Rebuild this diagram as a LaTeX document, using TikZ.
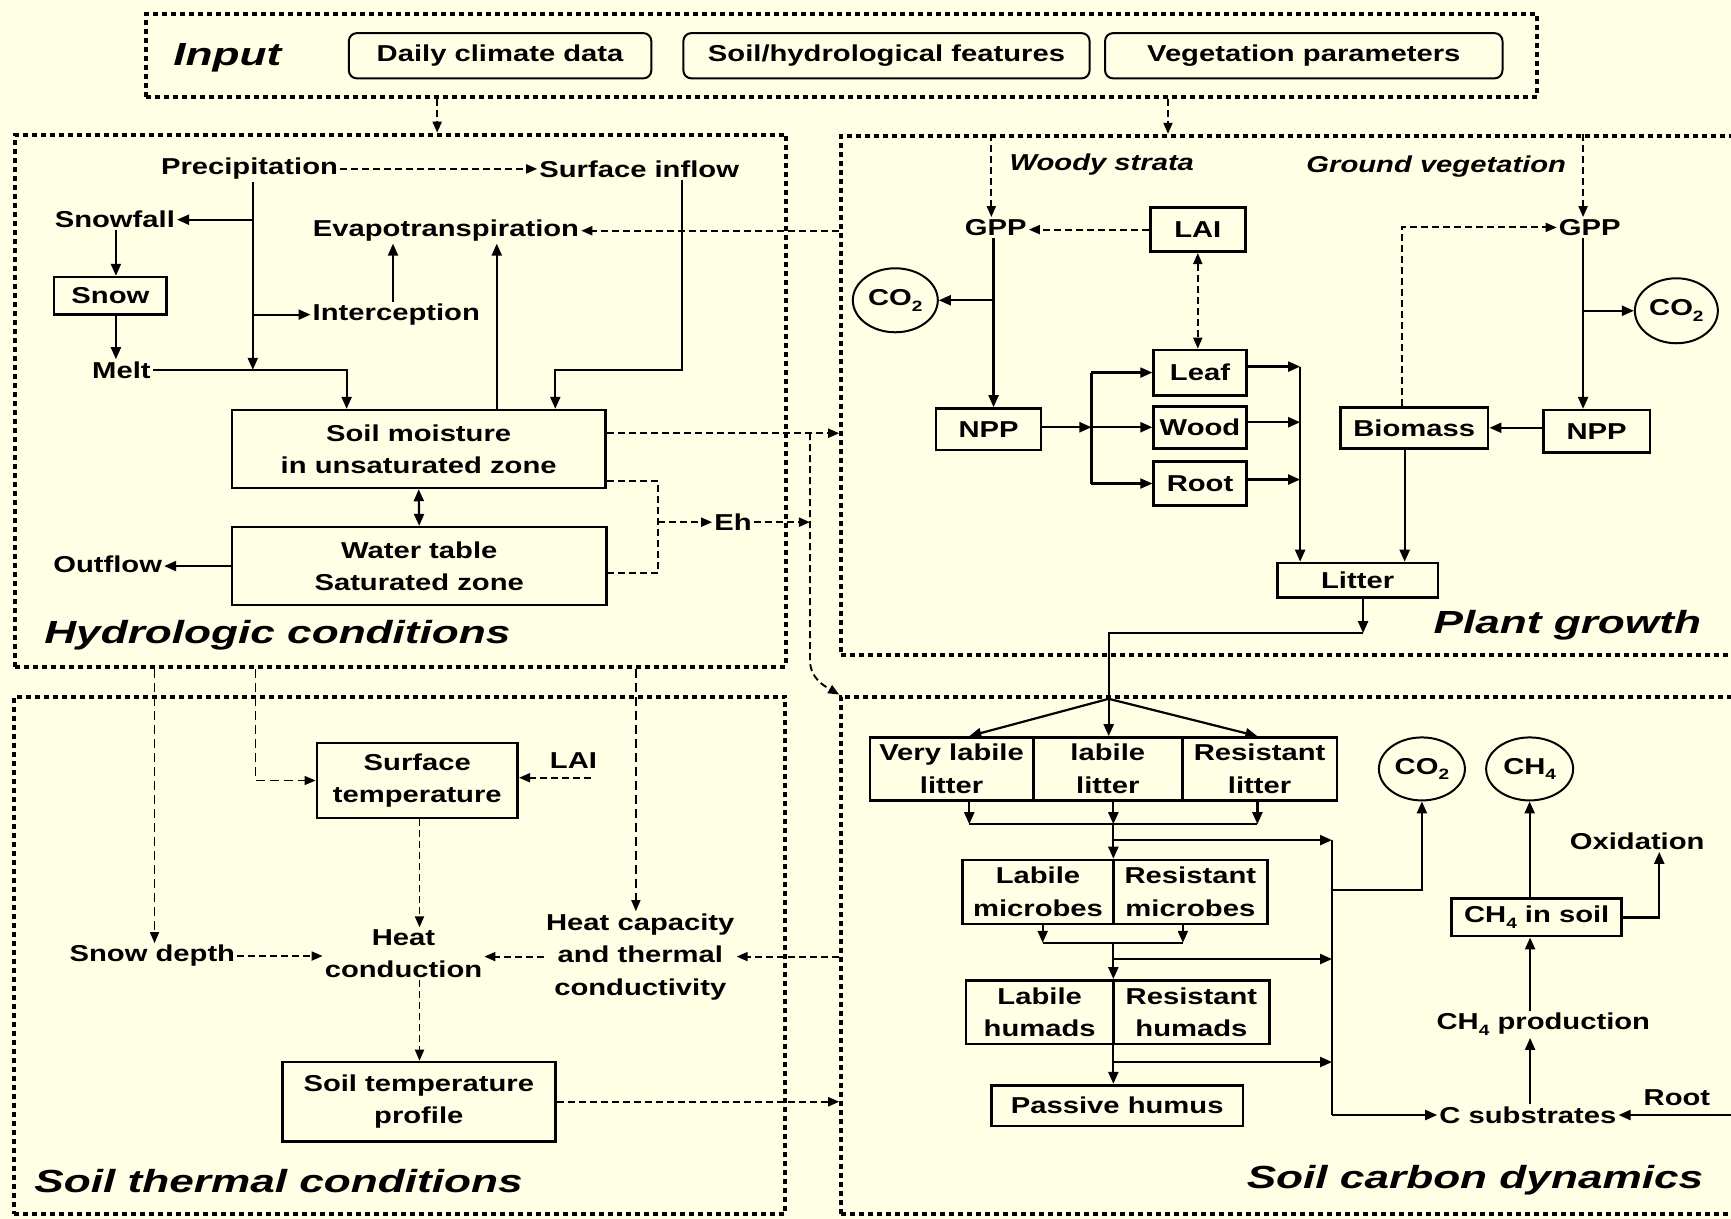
\documentclass[tikz,border=0pt]{standalone}
\usepackage{fontspec}
\setmainfont[FakeStretch=1.27]{Liberation Sans}
\newfontfamily\ttlfont[FakeStretch=1.38]{Liberation Sans}
\usetikzlibrary{arrows.meta,fit,shapes.geometric}
\definecolor{bgc}{RGB}{255,255,230}
\newcommand{\sbs}[1]{\raisebox{-0.25em}{\fontsize{15}{15}\selectfont #1}}
\begin{document}
\begin{tikzpicture}[x=1.104pt,y=-1.104pt,
  lbl/.style={inner sep=2pt, align=center, font=\bfseries\fontsize{23}{32.5}\selectfont},
  ilbl/.style={inner sep=2pt, align=center, font=\bfseries\itshape\fontsize{23}{32.5}\selectfont},
  ttl/.style={inner sep=0pt, font=\ttlfont\bfseries\itshape\fontsize{32}{36}\selectfont},
  bx/.style={draw, line width=2.6pt, inner sep=0pt, align=center, font=\bfseries\fontsize{23}{32.5}\selectfont},
  rbx/.style={bx, line width=2pt, rounded corners=8pt},
  cbox/.style n args={4}{at={({(#1+#3)/2},{(#2+#4)/2})}, minimum width={(#3-#1)*1.104pt}, minimum height={(#4-#2)*1.104pt}},
  circ/.style={draw, ellipse, line width=2pt, inner sep=0pt, font=\bfseries\fontsize{23}{32.5}\selectfont},
  bigbox/.style={draw, line width=4pt, dash pattern=on 5pt off 4pt, inner sep=0pt},
  ln/.style={line width=2.2pt},
  arr/.style={ln, -{Triangle[length=12pt,width=10pt]}},
  dbl/.style={ln, {Triangle[length=12pt,width=10pt]}-{Triangle[length=12pt,width=10pt]}},
  dln/.style={line width=1.9pt, dash pattern=on 7pt off 4pt},
  darr/.style={dln, -{Triangle[length=11pt,width=9pt]}},
  ddarr/.style={dln, {Triangle[length=11pt,width=9pt]}-{Triangle[length=11pt,width=9pt]}},
  tdarr/.style={line width=1.4pt, dash pattern=on 9pt off 5pt, -{Triangle[length=11pt,width=9pt]}},
]
\useasboundingbox (0,0) rectangle (1568,1104);
\clip (0,0) rectangle (1568,1104);
\fill[bgc] (0,0) rectangle (1568,1104);

% ---------- containers
\node[bigbox, fit={(132,12.5) (1392,87.6)}] (inbox) {};
\node[bigbox, fit={(14,122) (712,604)}] (hydro) {};
\node[bigbox, fit={(762,123) (1620,593)}] (plant) {};
\node[bigbox, fit={(12.6,631) (711,1100)}] (thermal) {};
\node[bigbox, fit={(762,631) (1620,1100)}] (carbon) {};

% ---------- input
\node[ttl] (inp) at (206,52) {Input};
\node[rbx, cbox={316}{30}{590}{71}] (daily) {Daily climate data};
\node[rbx, cbox={619}{30}{987}{71}] (soilhyd) {Soil/hydrological features};
\node[rbx, cbox={1001}{30}{1361}{71}] (vegp) {Vegetation parameters};
\coordinate (xd1) at (396,0);
\coordinate (xd2) at (1058,0);
\draw[darr] (inbox.south -| xd1) -- (xd1 |- hydro.north);
\draw[darr] (inbox.south -| xd2) -- (xd2 |- plant.north);

% ---------- hydrologic conditions
\node[lbl] (precip) at (226,153) {Precipitation};
\node[lbl] (surf) at (579,153) {Surface inflow};
\node[lbl] (snowfall) at (104,199) {Snowfall};
\node[lbl] (evap) at (404,209) {Evapotranspiration};
\node[lbl] (intc) at (359,285) {Interception};
\node[lbl] (melt) at (110,335) {Melt};
\node[bx, cbox={49}{251}{151}{285}] (snow) {Snow};
\node[bx, cbox={210}{371.5}{548.5}{442}] (sm) {Soil moisture\\in unsaturated zone};
\node[bx, cbox={210}{477.5}{549.5}{548}] (wt) {Water table\\Saturated zone};
\node[lbl] (outflow) at (97.5,511) {Outflow};
\node[lbl] (eh) at (664,473) {Eh};
\node[ttl, anchor=west] (hydt) at (40,575) {Hydrologic conditions};

\coordinate (xA) at (229,0);
\coordinate (xS) at (105,0);
\coordinate (xI) at (356,0);
\coordinate (xE) at (450,0);
\coordinate (xM) at (314,0);
\coordinate (xF) at (618,0);
\coordinate (xG) at (503,0);
\coordinate (xL) at (596.3,0);
\coordinate (xR) at (733.7,0);

\draw[darr] (precip.east) -- (surf.west);
\draw[arr] (xA |- precip.south) -- (xA |- melt.east);
\draw[arr] (xA |- snowfall.east) -- (snowfall.east);
\draw[arr] (xS |- snowfall.south) -- (xS |- snow.north);
\draw[arr] (xS |- snow.south) -- (xS |- melt.north);
\draw[arr] (xA |- intc.west) -- (intc.west);
\draw[arr] (xI |- intc.north) -- (xI |- evap.south);
\draw[arr] (xE |- sm.north) -- (xE |- evap.south);
\draw[arr] (melt.east) -| (xM |- sm.north);
\draw[arr] (xF |- surf.south) |- (xG |- melt.east) -- (xG |- sm.north);
\draw[darr] (plant.west |- evap.east) -- (evap.east);
\draw[dbl] (sm.south) -- (wt.north);
\draw[arr] (wt.west) -- (wt.west -| outflow.east);
\coordinate (ehtop) at ([yshift=8pt]sm.south east);
\coordinate (ehbot) at ([yshift=-6.6pt]wt.east);
\draw[dln] (ehtop) -| (xL |- ehbot) -- (ehbot);
\draw[darr] (xL |- eh.west) -- (eh.west);
\draw[darr] (eh.east) -- (xR |- eh.east);
\coordinate (smr) at ([yshift=15.8pt]sm.east);
\draw[darr] (smr) -- (plant.west |- smr);
\coordinate (rb) at (733.7,598);
\draw[darr] (xR |- smr) -- (rb) to[out=-90,in=150] (carbon.north west);

% ---------- soil thermal conditions
\node[bx, cbox={287}{673}{469}{741}] (stemp) {Surface\\temperature};
\node[lbl] (lai2) at (519.5,689) {LAI};
\node[lbl] (sdepth) at (138,866) {Snow depth};
\node[lbl] (hcon) at (365.5,864) {Heat\\conduction};
\node[lbl] (hc) at (580,866.5) {Heat capacity\\and thermal\\conductivity};
\node[bx, cbox={255.7}{962}{503}{1034}] (stp) {Soil temperature\\profile};
\node[ttl, anchor=west] (tht) at (31,1070) {Soil thermal conditions};
\coordinate (xT1) at (140,0);
\coordinate (xT2) at (231.5,0);
\coordinate (xT3) at (576,0);
\coordinate (xH) at (380,0);
\coordinate (laio) at ([yshift=-7pt]lai2.south east);
\draw[tdarr] (xT1 |- hydro.south) -- (xT1 |- sdepth.north);
\draw[tdarr] (xT2 |- hydro.south) |- (stemp.west);
\draw[tdarr] (xT3 |- hydro.south) -- (xT3 |- hc.north);
\draw[darr] ([xshift=-8pt]laio) -- (laio -| stemp.east);
\draw[darr] (xH |- stemp.south) -- (xH |- hcon.north);
\draw[darr] (sdepth.east) -- (sdepth.east -| hcon.west);
\draw[darr] (hc.west) -- (hc.west -| hcon.east);
\draw[darr] (carbon.west |- hc.east) -- (hc.east);
\draw[darr] (xH |- hcon.south) -- (xH |- stp.north);
\draw[darr] (stp.east) -- (stp.east -| carbon.west);

% ---------- plant growth
\node[ilbl] (woody) at (998,149) {Woody strata};
\node[ilbl] (ground) at (1301,151) {Ground vegetation};
\node[lbl] (gpp1) at (902,206) {GPP};
\node[lbl] (gpp2) at (1440,206) {GPP};
\node[bx, cbox={1042}{188}{1128}{228}] (lai) {LAI};
\node[circ, minimum width=85pt, minimum height=64pt] (co2a) at (811,272) {CO\sbs{2}};
\node[bx, cbox={848}{370}{943}{407.6}] (npp1) {NPP};
\node[bx, cbox={1045}{317}{1129}{358}] (leaf) {Leaf};
\node[bx, cbox={1045}{368}{1129}{406}] (wood) {Wood};
\node[bx, cbox={1045}{418}{1129}{458}] (root) {Root};
\node[bx, cbox={1157}{510}{1302.6}{541}] (litter) {Litter};
\node[bx, cbox={1214}{369}{1348}{406}] (biomass) {Biomass};
\node[bx, cbox={1398}{371.5}{1494.6}{410}] (npp2) {NPP};
\node[circ, minimum width=83pt, minimum height=65pt] (co2b) at (1518.5,281.5) {CO\sbs{2}};
\node[ttl, anchor=east] (pgt) at (1541,566) {Plant growth};

\coordinate (xW) at (898,0);
\coordinate (xG1) at (900,0);
\coordinate (xN) at (988.7,0);
\coordinate (xLt) at (1177.7,0);
\coordinate (xB) at (1272.4,0);
\coordinate (xB2) at (1270,0);
\coordinate (xG2) at (1434,0);

\draw[darr] (xW |- plant.north) -- (xW |- gpp1.north);
\draw[darr] (lai.west) -- (lai.west -| gpp1.east);
\draw[arr] (xG1 |- gpp1.south) -- (xG1 |- npp1.north);
\draw[arr] (xG1 |- co2a.east) -- (co2a.east);
\draw[arr] (npp1.east |- wood.west) -- (xN |- wood.west);
\draw[ln] (xN |- leaf.west) -- (xN |- root.west);
\draw[arr] (xN |- leaf.west) -- (leaf.west);
\draw[arr] (xN |- wood.west) -- (wood.west);
\draw[arr] (xN |- root.west) -- (root.west);
\coordinate (lfo) at ([yshift=6pt]leaf.east);
\coordinate (wdo) at ([yshift=5pt]wood.east);
\coordinate (rto) at ([yshift=4pt]root.east);
\draw[arr] (lfo) -- (xLt |- lfo);
\draw[arr] (wdo) -- (xLt |- wdo);
\draw[arr] (rto) -- (xLt |- rto);
\draw[arr] (xLt |- lfo) -- (xLt |- litter.north);
\draw[ddarr] (lai.south) -- (lai.south |- leaf.north);
\draw[arr] (xB |- biomass.south) -- (xB |- litter.north);
\draw[darr] (xB2 |- biomass.north) |- (gpp2.west);
\draw[darr] (xG2 |- plant.north) -- (xG2 |- gpp2.north);
\draw[arr] (xG2 |- gpp2.south) -- (xG2 |- npp2.north);
\draw[arr] (xG2 |- co2b.west) -- (co2b.west);
\draw[arr] (npp2.west |- biomass.east) -- (biomass.east);

% ---------- soil carbon dynamics
\coordinate (lbend) at (1234.7,573.5);
\coordinate (split) at (1004.3,633);
\draw[arr] (litter.south -| lbend) -- (lbend);
\draw[ln] (lbend) -| (split);

\node[bx, cbox={788}{668}{936}{725}] (vl) {Very labile\\litter};
\node[bx, cbox={936}{668}{1071}{725}] (lb) {labile\\litter};
\node[bx, cbox={1071}{668}{1211}{725}] (rl) {Resistant\\litter};
\node[bx, cbox={872}{779}{1008.5}{837}] (lm) {Labile\\microbes};
\node[bx, cbox={1008.5}{779}{1148}{837}] (rm) {Resistant\\microbes};
\node[bx, cbox={875}{888}{1008.5}{945.7}] (lh) {Labile\\humads};
\node[bx, cbox={1008.5}{888}{1150}{945.7}] (rh) {Resistant\\humads};
\node[bx, cbox={898}{983}{1126}{1020}] (ph) {Passive humus};
\node[circ, minimum width=86pt, minimum height=63pt] (co2c) at (1288,696.5) {CO\sbs{2}};
\node[circ, minimum width=87pt, minimum height=63pt] (ch4c) at (1385.6,696.5) {CH\sbs{4}};
\node[bx, cbox={1315}{814}{1469}{848}] (ch4soil) {CH\sbs{4} in soil};
\node[lbl] (oxid) at (1483,762) {Oxidation};
\node[lbl] (ch4p) at (1398,928) {CH\sbs{4} production};
\node[lbl] (csub) at (1384,1010) {C substrates};
\node[lbl] (root2) at (1519,994) {Root};
\node[ttl, anchor=east] (sct) at (1543,1069) {Soil carbon dynamics};

\coordinate (xc1) at (878,0);
\coordinate (xc3) at (1139,0);
\coordinate (xm) at (1008.5,0);
\coordinate (xmb1) at (944.5,0);
\coordinate (xmb2) at (1071.5,0);
\coordinate (xRail) at (1206.6,0);
\coordinate (xO) at (1503,0);
\coordinate (xCH) at (1386,0);
\coordinate (xEdge) at (1568,0);
\coordinate (yc1) at (0,746.6);
\coordinate (yb1) at (0,761);
\coordinate (yc2) at (0,854);
\coordinate (yb2) at (0,868.7);
\coordinate (yb3) at (0,962);
\coordinate (yco) at (0,806);

\draw[arr] (split) -- (xc1 |- vl.north);
\draw[arr] (split) -- (split |- lb.north);
\draw[arr] (split) -- (xc3 |- rl.north);
\draw[arr] (xc1 |- vl.south) -- (xc1 |- yc1);
\draw[arr] (xm |- lb.south) -- (xm |- yc1);
\draw[arr] (xc3 |- rl.south) -- (xc3 |- yc1);
\draw[ln] (xc1 |- yc1) -- (xc3 |- yc1);
\draw[arr] (xm |- yc1) -- (xm |- lm.north);
\draw[arr] (xm |- yb1) -- (xRail |- yb1);
\draw[arr] (xmb1 |- lm.south) -- (xmb1 |- yc2);
\draw[arr] (xmb2 |- rm.south) -- (xmb2 |- yc2);
\draw[ln] (xmb1 |- yc2) -- (xmb2 |- yc2);
\draw[arr] (xm |- yc2) -- (xm |- lh.north);
\draw[arr] (xm |- yb2) -- (xRail |- yb2);
\draw[arr] (xm |- lh.south) -- (xm |- ph.north);
\draw[arr] (xm |- yb3) -- (xRail |- yb3);
\draw[ln] (xRail |- yb1) -- (xRail |- csub.west);
\draw[arr] (xRail |- csub.west) -- (csub.west);
\draw[arr] (xRail |- yco) -| (co2c.south);
\draw[arr] (ch4c.south |- ch4soil.north) -- (ch4c.south);
\draw[arr] (ch4soil.east) -| (xO |- oxid.south);
\draw[arr] (xCH |- ch4p.north) -- (xCH |- ch4soil.south);
\draw[arr] (xCH |- csub.north) -- (xCH |- ch4p.south);
\draw[arr] (xEdge |- csub.east) -- (csub.east);
\end{tikzpicture}
\end{document}
